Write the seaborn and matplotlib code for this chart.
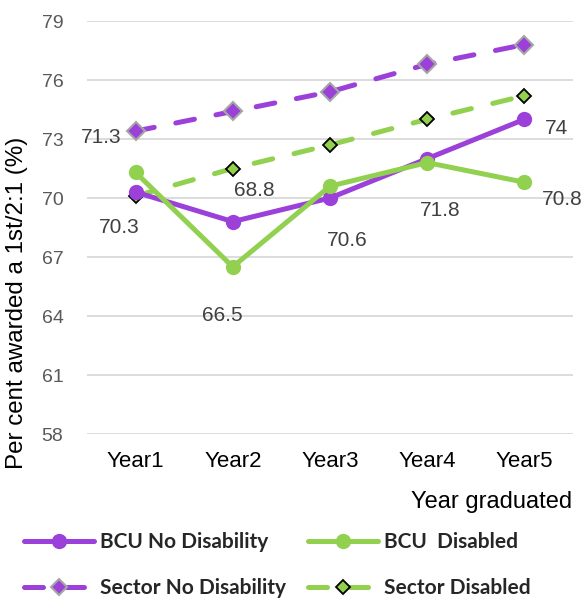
import matplotlib
matplotlib.use("Agg")
import matplotlib.pyplot as plt
from matplotlib.lines import Line2D
import seaborn as sns
import pandas as pd

years = ["Year1", "Year2", "Year3", "Year4", "Year5"]
bcu_no_disability = [70.3, 68.8, 70.0, 72.0, 74.0]
bcu_disabled = [71.3, 66.5, 70.6, 71.8, 70.8]
sector_no_disability = [73.4, 74.4, 75.4, 76.8, 77.8]
sector_disabled = [70.1, 71.5, 72.7, 74.0, 75.2]
y_ticks = [58, 61, 64, 67, 70, 73, 76, 79]

PURPLE = "#9b40d8"
GREEN = "#92d050"
LW = 3.6
DASH = (3.8, 4.4)

sns.set_theme(style="white")
plt.rcParams["font.family"] = ["Liberation Sans", "DejaVu Sans"]

fig = plt.figure(figsize=(5.87, 6.02), dpi=100)
ax = fig.add_axes([87 / 587, 1 - 434 / 602, (573 - 87) / 587, (434 - 21) / 602])

df = pd.DataFrame({"Year": years})

sns.lineplot(x=df["Year"], y=sector_no_disability, ax=ax, color=PURPLE, lw=LW,
             marker="D", markersize=9.5, markerfacecolor=PURPLE, markeredgecolor="#a6a6a6",
             markeredgewidth=1.5, sort=False, zorder=3)
ax.lines[-1].set_dashes(DASH)
ax.lines[-1].set_dash_capstyle("round")
sns.lineplot(x=df["Year"], y=sector_disabled, ax=ax, color=GREEN, lw=LW,
             marker="D", markersize=7.5, markerfacecolor=GREEN, markeredgecolor="black",
             markeredgewidth=1.3, sort=False, zorder=3)
ax.lines[-1].set_dashes(DASH)
ax.lines[-1].set_dash_capstyle("round")
sns.lineplot(x=df["Year"], y=bcu_no_disability, ax=ax, color=PURPLE, lw=LW,
             marker="o", markersize=11, markeredgewidth=0, sort=False, zorder=4)
sns.lineplot(x=df["Year"], y=bcu_disabled, ax=ax, color=GREEN, lw=LW,
             marker="o", markersize=11, markeredgewidth=0, sort=False, zorder=5)
for ln in ax.lines:
    ln.set_solid_joinstyle("round")
    ln.set_solid_capstyle("round")

# value labels for the BCU series, offset in pixels from each point
label_specs = [
    (bcu_disabled, 0, (-34, 35)),
    (bcu_no_disability, 0, (-16, -35)),
    (bcu_no_disability, 1, (22, 31)),
    (bcu_disabled, 1, (-10, -49)),
    (bcu_disabled, 2, (17, -54)),
    (bcu_disabled, 3, (13, -48)),
    (bcu_no_disability, 4, (32, -9)),
    (bcu_disabled, 4, (38, -17)),
]
for series, i, off in label_specs:
    v = series[i]
    ax.annotate(f"{v:g}", (i, v), xytext=off, textcoords="offset pixels",
                ha="center", va="center", fontsize=15, color="#404040", zorder=6)

ax.set_xlim(-0.5, 4.5)
ax.set_ylim(58, 79)
ax.set_yticks(y_ticks)
ax.set_xticks(range(len(years)))
ax.set_xticklabels(years)
ax.grid(axis="y", color="#d9d9d9", lw=1.3)
ax.grid(axis="x", visible=False)
for s in ax.spines.values():
    s.set_visible(False)
ax.tick_params(axis="y", length=0, labelsize=14, labelcolor="#595959", pad=17)
ax.tick_params(axis="x", length=0, labelsize=16, labelcolor="black", pad=12)
ax.set_xlabel("")
ax.set_ylabel("")

fig.text(572 / 587, 1 - 502 / 602, "Year graduated", ha="right", va="center",
         fontsize=17, color="black")
fig.text(17 / 587, 1 - 303 / 602, "Per cent awarded a 1st/2:1 (%)", rotation=90,
         ha="center", va="center", fontsize=17.4, color="black")

handles = [
    Line2D([], [], color=PURPLE, lw=LW, marker="o", markersize=11, markeredgewidth=0,
           solid_capstyle="round"),
    Line2D([], [], color=PURPLE, lw=LW, dashes=DASH, dash_capstyle="round", marker="D",
           markersize=8.5, markerfacecolor=PURPLE, markeredgecolor="#a6a6a6",
           markeredgewidth=1.5),
    Line2D([], [], color=GREEN, lw=LW, marker="o", markersize=11, markeredgewidth=0,
           solid_capstyle="round"),
    Line2D([], [], color=GREEN, lw=LW, dashes=DASH, dash_capstyle="round", marker="D",
           markersize=7.5, markerfacecolor=GREEN, markeredgecolor="black",
           markeredgewidth=1.3),
]
labels = ["BCU No Disability", "Sector No Disability", "BCU  Disabled", "Sector Disabled"]
fig.legend(handles, labels, ncol=2, loc="upper left",
           bbox_to_anchor=(14 / 587, 1 - 522 / 602), frameon=False, borderpad=0,
           prop={"family": ["Lato", "DejaVu Sans"], "weight": "bold", "size": 15},
           handlelength=3.35, handletextpad=0.3, columnspacing=1.05, labelspacing=1.25,
           numpoints=1)

fig.savefig("out.png", dpi=100)
